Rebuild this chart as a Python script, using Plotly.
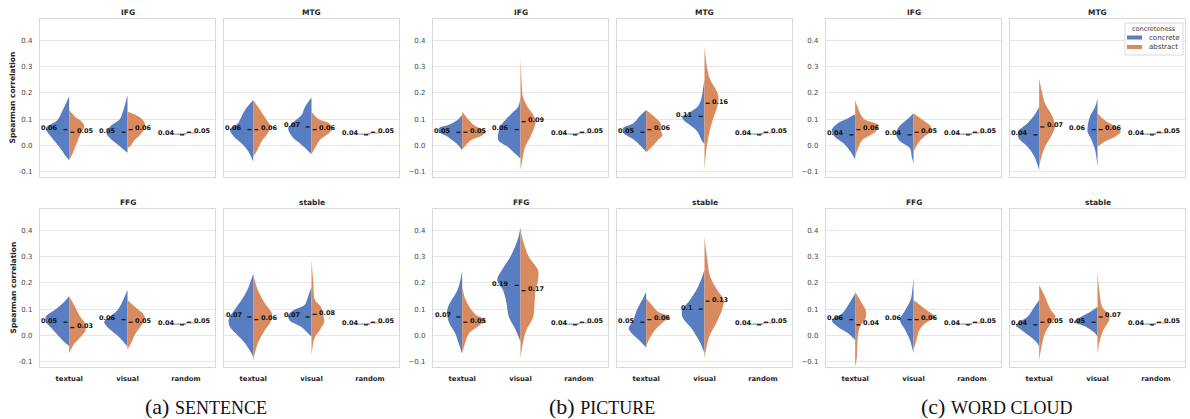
import plotly.graph_objects as go

# ---------------- data ----------------
CATEGORIES = ["textual", "visual", "random"]
HUES = ["concrete", "abstract"]
REGIONS = ["IFG", "MTG", "FFG", "stable"]
GROUPS = ["SENTENCE", "PICTURE", "WORD CLOUD"]
LETTERS = ["a", "b", "c"]
Y_TICKS = [-0.1, 0.0, 0.1, 0.2, 0.3, 0.4]

# mean Spearman correlation per region: [concrete, abstract] for textual, visual, random
sentence_means = {
    "IFG": [[0.06, 0.05], [0.05, 0.06], [0.04, 0.05]],
    "MTG": [[0.06, 0.06], [0.07, 0.06], [0.04, 0.05]],
    "FFG": [[0.05, 0.03], [0.06, 0.05], [0.04, 0.05]],
    "stable": [[0.07, 0.06], [0.07, 0.08], [0.04, 0.05]],
}
picture_means = {
    "IFG": [[0.05, 0.05], [0.06, 0.09], [0.04, 0.05]],
    "MTG": [[0.05, 0.06], [0.11, 0.16], [0.04, 0.05]],
    "FFG": [[0.07, 0.05], [0.19, 0.17], [0.04, 0.05]],
    "stable": [[0.05, 0.06], [0.1, 0.13], [0.04, 0.05]],
}
wordcloud_means = {
    "IFG": [[0.04, 0.06], [0.04, 0.05], [0.04, 0.05]],
    "MTG": [[0.04, 0.07], [0.06, 0.06], [0.04, 0.05]],
    "FFG": [[0.06, 0.04], [0.06, 0.06], [0.04, 0.05]],
    "stable": [[0.04, 0.05], [0.05, 0.07], [0.04, 0.05]],
}

# density profiles: [correlation, half-width] from top to bottom
# per category: [concrete, abstract]
sentence_IFG = {
    "textual": [[[.187, 0], [.134, .11], [.096, .2], [.065, .4], [.033, .31], [-.005, .17], [-.037, .07], [-.056, 0]],
                [[.134, 0], [.109, .1], [.09, .22], [.071, .26], [.046, .2], [.008, .13], [-.03, .06], [-.056, 0]]],
    "visual": [[[.19, 0], [.134, .07], [.1, .13], [.071, .3], [.046, .36], [.027, .3], [0, .15], [-.028, 0]],
               [[.128, 0], [.118, .12], [.1, .25], [.08, .3], [.06, .28], [.04, .22], [.02, .12], [0, .06], [-.012, 0]]],
}
sentence_MTG = {
    "textual": [[[.172, 0], [.134, .14], [.109, .2], [.084, .26], [.06, .4], [.033, .33], [.008, .2], [-.024, .08], [-.062, 0]],
                [[.172, 0], [.134, .12], [.1, .22], [.071, .3], [.046, .25], [.014, .14], [-.018, .07], [-.043, 0]]],
    "visual": [[[.182, 0], [.147, .11], [.115, .17], [.09, .3], [.065, .4], [.033, .33], [.008, .2], [-.018, .07], [-.033, 0]],
               [[.128, 0], [.1, .12], [.084, .3], [.065, .36], [.046, .3], [.02, .14], [-.01, .06], [-.033, 0]]],
}
sentence_FFG = {
    "textual": [[[.149, 0], [.122, .11], [.096, .25], [.071, .4], [.052, .4], [.027, .3], [-.005, .17], [-.03, .06], [-.04, 0]],
                [[.149, 0], [.109, .1], [.071, .19], [.046, .27], [.02, .28], [-.005, .2], [-.037, .07], [-.068, 0]]],
    "visual": [[[.172, 0], [.122, .1], [.096, .17], [.071, .3], [.052, .4], [.033, .35], [-.005, .15], [-.043, 0]],
               [[.134, 0], [.1, .17], [.084, .26], [.065, .3], [.039, .24], [.008, .14], [-.03, .06], [-.053, 0]]],
}
sentence_stable = {
    "textual": [[[.233, 0], [.172, .1], [.134, .2], [.096, .32], [.06, .42], [.033, .4], [.008, .3], [-.03, .14], [-.068, .03], [-.081, 0]],
                [[.233, 0], [.172, .08], [.122, .2], [.084, .32], [.052, .3], [.02, .2], [-.03, .08], [-.096, 0]]],
    "visual": [[[.185, 0], [.147, .06], [.115, .12], [.096, .3], [.077, .4], [.058, .38], [.033, .18], [.008, .06], [-.005, 0]],
               [[.286, 0], [.2, .03], [.134, .06], [.109, .16], [.077, .2], [.052, .22], [.02, .14], [-.011, .05], [-.078, 0]]],
}
picture_IFG = {
    "textual": [[[.115, 0], [.096, .08], [.077, .24], [.065, .4], [.052, .4], [.033, .25], [.008, .1], [-.018, 0]],
                [[.128, 0], [.1, .1], [.077, .2], [.052, .4], [.039, .35], [.02, .15], [0, .06], [-.015, 0]]],
    "visual": [[[.185, 0], [.147, .04], [.122, .15], [.096, .26], [.071, .35], [.046, .38], [.02, .38], [-.005, .22], [-.03, .1], [-.05, 0]],
               [[.33, 0], [.235, .02], [.185, .04], [.147, .12], [.122, .2], [.096, .26], [.071, .24], [.033, .17], [-.005, .08], [-.056, .03], [-.094, 0]]],
}
picture_MTG = {
    "textual": [[[.134, 0], [.109, .12], [.084, .22], [.065, .4], [.046, .38], [.02, .2], [-.005, .08], [-.024, 0]],
                [[.134, 0], [.109, .14], [.084, .25], [.058, .25], [.039, .28], [.02, .2], [-.005, .1], [-.026, 0]]],
    "visual": [[[.254, 0], [.223, .02], [.172, .06], [.147, .12], [.122, .28], [.109, .38], [.096, .36], [.077, .25], [.052, .12], [.02, .05], [.005, 0]],
               [[.375, 0], [.3, .04], [.248, .1], [.21, .2], [.185, .24], [.147, .22], [.096, .14], [.046, .08], [-.018, .03], [-.094, 0]]],
}
picture_FFG = {
    "textual": [[[.246, 0], [.21, .03], [.172, .08], [.134, .18], [.109, .24], [.084, .26], [.046, .22], [.008, .12], [-.03, .06], [-.071, 0]],
                [[.185, 0], [.134, .06], [.1, .15], [.077, .24], [.058, .4], [.039, .3], [.008, .12], [-.03, .05], [-.068, 0]]],
    "visual": [[[.41, 0], [.362, .05], [.3, .17], [.248, .32], [.21, .4], [.172, .3], [.122, .24], [.071, .2], [.02, .08], [-.024, 0]],
               [[.406, 0], [.362, .04], [.3, .14], [.248, .3], [.21, .3], [.172, .26], [.122, .24], [.071, .22], [.02, .1], [-.03, .04], [-.087, 0]]],
}
picture_stable = {
    "textual": [[[.166, 0], [.134, .07], [.096, .16], [.058, .22], [.027, .3], [.008, .25], [-.018, .12], [-.046, 0]],
                [[.14, 0], [.115, .1], [.09, .2], [.071, .4], [.052, .3], [.02, .15], [-.011, .06], [-.04, 0]]],
    "visual": [[[.25, 0], [.21, .06], [.172, .14], [.134, .25], [.096, .38], [.071, .38], [.02, .2], [-.03, .07], [-.068, 0]],
               [[.375, 0], [.3, .04], [.223, .1], [.172, .22], [.134, .33], [.096, .3], [.046, .2], [-.005, .08], [-.087, 0]]],
}
wordcloud_IFG = {
    "textual": [[[.118, 0], [.1, .15], [.084, .3], [.058, .4], [.033, .35], [.008, .2], [-.024, .08], [-.053, 0]],
                [[.172, 0], [.134, .06], [.1, .15], [.077, .4], [.052, .35], [.02, .12], [-.011, .05], [-.043, 0]]],
    "visual": [[[.122, 0], [.096, .12], [.071, .25], [.046, .3], [.02, .25], [-.011, .06], [-.043, .03], [-.068, 0]],
               [[.122, 0], [.096, .16], [.071, .3], [.052, .3], [.033, .18], [.008, .08], [-.024, 0]]],
}
wordcloud_MTG = {
    "textual": [[[.147, 0], [.115, .08], [.084, .2], [.052, .36], [.027, .35], [-.005, .2], [-.043, .08], [-.094, 0]],
                [[.254, 0], [.21, .04], [.16, .1], [.109, .23], [.071, .27], [.033, .2], [-.005, .1], [-.043, .04], [-.081, 0]]],
    "visual": [[[.178, 0], [.147, .04], [.115, .12], [.084, .16], [.052, .17], [.02, .1], [-.018, .04], [-.081, 0]],
               [[.122, 0], [.096, .12], [.071, .3], [.052, .4], [.033, .3], [.014, .12], [-.005, 0]]],
}
wordcloud_FFG = {
    "textual": [[[.16, 0], [.122, .1], [.084, .22], [.058, .4], [.033, .3], [.008, .12], [-.018, 0]],
                [[.166, 0], [.128, .1], [.096, .18], [.065, .18], [.033, .08], [-.018, .04], [-.081, .03], [-.119, 0]]],
    "visual": [[[.223, 0], [.172, .02], [.134, .05], [.096, .14], [.058, .23], [.02, .14], [-.018, .06], [-.068, 0]],
               [[.134, 0], [.109, .15], [.084, .3], [.071, .37], [.046, .2], [.02, .1], [-.018, .05], [-.056, 0]]],
}
wordcloud_stable = {
    "textual": [[[.134, 0], [.109, .08], [.071, .2], [.039, .4], [.02, .3], [-.005, .15], [-.03, .03], [-.043, 0]],
                [[.191, 0], [.147, .1], [.096, .2], [.071, .28], [.046, .2], [.008, .1], [-.043, .04], [-.094, 0]]],
    "visual": [[[.109, 0], [.09, .12], [.071, .28], [.052, .4], [.033, .2], [.008, .04], [-.005, 0]],
               [[.242, 0], [.172, .03], [.109, .08], [.077, .2], [.058, .2], [.02, .1], [-.018, .04], [-.068, 0]]],
}
# random baseline (identical thin distribution in every panel)
random_profile = [[[.046, 0], [.043, .3], [.040, 0]],
                  [[.051, 0], [.048, .3], [.045, 0]]]

GROUP_MEANS = [sentence_means, picture_means, wordcloud_means]
GROUP_PROFILES = [
    [sentence_IFG, sentence_MTG, sentence_FFG, sentence_stable],
    [picture_IFG, picture_MTG, picture_FFG, picture_stable],
    [wordcloud_IFG, wordcloud_MTG, wordcloud_FFG, wordcloud_stable],
]

# ---------------- style / layout ----------------
W, H = 1190, 419
COLORS = {"concrete": "#587dc0", "abstract": "#d98b5f"}
FONT = "DejaVu Sans"
GX = [40, 433, 826]
COL_W, COL_GAP = 175, 9
ROWS_PX = [(19, 177), (209, 367)]
CAPTION_X = [206, 602, 996]

fig = go.Figure()
layout = dict(
    width=W, height=H, margin=dict(l=0, r=0, t=0, b=0),
    paper_bgcolor="white", plot_bgcolor="white",
    font=dict(family=FONT, color="#262626"),
    annotations=[], shapes=[], showlegend=False,
)

for g in range(3):
    for r, region in enumerate(REGIONS):
        k = g * 4 + r + 1
        row, col = divmod(r, 2)
        x0 = GX[g] + col * (COL_W + COL_GAP)
        x1 = x0 + COL_W
        yt, yb = ROWS_PX[row]
        xname = "xaxis" if k == 1 else f"xaxis{k}"
        yname = "yaxis" if k == 1 else f"yaxis{k}"
        xref, yref = f"x{k}" if k > 1 else "x", f"y{k}" if k > 1 else "y"
        minus = "-" if g == 0 else "\u2212"
        layout[xname] = dict(
            domain=[x0 / W, x1 / W], range=[-0.5, 2.5], anchor=yref,
            tickvals=[0, 1, 2], ticktext=CATEGORIES, showticklabels=(row == 1),
            tickfont=dict(size=6.8, family=FONT, color="#262626", weight="bold"),
            showgrid=False, zeroline=False, showline=True, mirror=True,
            linecolor="#d9d9d9", linewidth=1.2, ticks="", ticklabelstandoff=5,
        )
        layout[yname] = dict(
            domain=[1 - yb / H, 1 - yt / H], range=[-0.12, 0.48], anchor=xref,
            tickvals=Y_TICKS,
            ticktext=[(minus + "0.1") if v < 0 else f"{v:.1f}" for v in Y_TICKS],
            showticklabels=(col == 0),
            tickfont=dict(size=7, family=FONT, color="#444444"),
            showgrid=True, gridcolor="#e6e6e6", gridwidth=1, zeroline=False,
            showline=True, mirror=True, linecolor="#d9d9d9", linewidth=1.2,
            ticks="", ticklabelstandoff=5,
        )
        # subplot title
        layout["annotations"].append(dict(
            text=region, xref="paper", yref="paper", x=(x0 + x1) / 2 / W,
            y=1 - (yt - 7) / H, xanchor="center", yanchor="middle", showarrow=False,
            font=dict(size=7.5, family=FONT, color="#262626", weight="bold"),
        ))

        profiles = GROUP_PROFILES[g][r]
        means = GROUP_MEANS[g][region]
        mx, my = [], []
        for i, cat in enumerate(CATEGORIES):
            pair = profiles[cat] if cat in profiles else random_profile
            for h, hue in enumerate(HUES):
                sign = -1 if h == 0 else 1
                prof = pair[h]
                fig.add_trace(go.Scatter(
                    x=[i + sign * w for _, w in prof], y=[y for y, _ in prof],
                    mode="lines", fill="toself", fillcolor=COLORS[hue],
                    line=dict(width=0, color=COLORS[hue], shape="spline", smoothing=0.9),
                    name=hue, showlegend=False,
                    xaxis=xref, yaxis=yref, hoverinfo="skip",
                ))
            mc, ma = means[i]
            mx += [i - 0.10, i - 0.03, None, i + 0.02, i + 0.09, None]
            my += [mc, mc, None, ma, ma, None]
            layout["annotations"].append(dict(
                text=str(mc), x=i - 0.16, y=mc, xref=xref, yref=yref,
                xanchor="right", yanchor="middle", yshift=1.5, showarrow=False,
                font=dict(size=6.5, family=FONT, color="#111111", weight="bold"),
            ))
            layout["annotations"].append(dict(
                text=str(ma), x=i + 0.10, y=ma, xref=xref, yref=yref,
                xanchor="left", yanchor="middle", yshift=1.5, showarrow=False,
                font=dict(size=6.5, family=FONT, color="#111111", weight="bold"),
            ))
        fig.add_trace(go.Scatter(
            x=mx, y=my, mode="lines", line=dict(color="#1a1a1a", width=1.3),
            showlegend=False, xaxis=xref, yaxis=yref, hoverinfo="skip",
        ))

    # caption
    layout["annotations"].append(dict(
        text=f"({LETTERS[g]}) <span style='font-size:18px'>{GROUPS[g]}</span>",
        xref="paper", yref="paper", x=CAPTION_X[g] / W, y=1 - 406 / H,
        xanchor="center", yanchor="middle", showarrow=False,
        font=dict(size=22, family="Liberation Serif", color="#111111"),
    ))

# y-axis titles (group a only)
for yt, yb in ROWS_PX:
    layout["annotations"].append(dict(
        text="Spearman correlation", xref="paper", yref="paper",
        x=12.5 / W, y=1 - (yt + yb) / 2 / H, textangle=-90,
        xanchor="center", yanchor="middle", showarrow=False,
        font=dict(size=7.5, family=FONT, color="#262626", weight="bold"),
    ))

# legend box (drawn in the MTG panel of WORD CLOUD, upper right)
LEG = dict(x0=1125, x1=1183, y0=23, y1=55)
layout["shapes"].append(dict(
    type="rect", xref="paper", yref="paper",
    x0=LEG["x0"] / W, x1=LEG["x1"] / W, y0=1 - LEG["y1"] / H, y1=1 - LEG["y0"] / H,
    fillcolor="rgba(255,255,255,0.85)", line=dict(color="#d9d9d9", width=1),
))
layout["annotations"].append(dict(
    text="concreteness", xref="paper", yref="paper", x=(LEG["x0"] + LEG["x1"]) / 2 / W,
    y=1 - 28.5 / H, xanchor="center", yanchor="middle", showarrow=False,
    font=dict(size=6.5, family=FONT, color="#333333"),
))
for h, hue in enumerate(HUES):
    cy = 37.5 + 9.5 * h
    layout["shapes"].append(dict(
        type="rect", xref="paper", yref="paper", x0=1127 / W, x1=1142 / W,
        y0=1 - (cy + 2) / H, y1=1 - (cy - 2) / H,
        fillcolor=COLORS[hue], line=dict(width=0),
    ))
    layout["annotations"].append(dict(
        text=hue, xref="paper", yref="paper", x=1147 / W, y=1 - cy / H,
        xanchor="left", yanchor="middle", showarrow=False,
        font=dict(size=7, family=FONT, color="#333333"),
    ))

fig.update_layout(**layout)
fig.write_html("out.html", config={"displayModeBar": False},
               post_script="document.body.style.margin='0';")
